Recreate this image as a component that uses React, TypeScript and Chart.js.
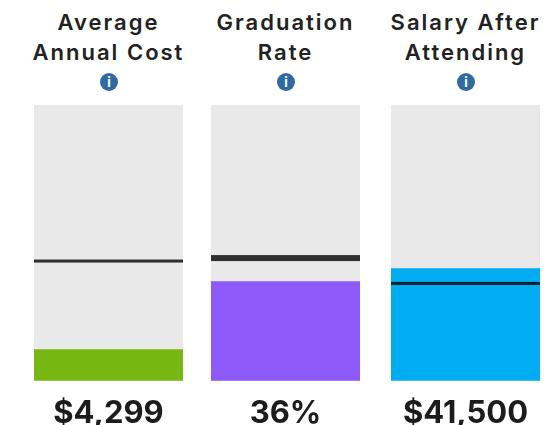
import React, { useEffect, useRef } from "react";
import { Chart, registerables } from "chart.js";

Chart.register(...registerables);

const headings = [["Average", "Annual Cost"], ["Graduation", "Rate"], ["Salary After", "Attending"]];
const valueLabels = ["$4,299", "36%", "$41,500"];
const values = [4299, 36, 41500];
const averages = [16500, 44.5, 36000];
const scaleMaxima = [38000, 100, 102000];
const barColors = ["#76b712", "#8d59f8", "#00adf2"];
const averageWidths = [3, 6, 3];
const columnLefts = [34, 211, 391];
const columnWidths = [149, 149, 149];

const averageLine = {
  id: "averageLine",
  afterDatasetsDraw(chart: any, _args: any, opts: any) {
    const { ctx, chartArea, scales } = chart;
    const y = scales.y.getPixelForValue(opts.value);
    ctx.save();
    ctx.fillStyle = "rgba(0,0,0,0.8)";
    ctx.fillRect(chartArea.left, y - opts.width / 2, chartArea.right - chartArea.left, opts.width);
    ctx.restore();
  },
};

function Column({ index }: { index: number }) {
  const ref = useRef<HTMLCanvasElement>(null);
  useEffect(() => {
    const chart = new Chart(ref.current!, {
      type: "bar",
      data: {
        labels: [valueLabels[index]],
        datasets: [
          { data: [values[index]], backgroundColor: barColors[index], order: 1 },
          { data: [scaleMaxima[index]], backgroundColor: "#e9e9e9", order: 2 },
        ],
      },
      options: {
        animation: false,
        responsive: false,
        events: [],
        layout: { padding: 0 },
        datasets: { bar: { grouped: false, barPercentage: 1, categoryPercentage: 1 } },
        plugins: {
          legend: { display: false },
          tooltip: { enabled: false },
          averageLine: { value: averages[index], width: averageWidths[index] },
        },
        scales: {
          x: {
            grid: { display: false },
            border: { display: false },
            ticks: {
              color: "#1c1c1c",
              padding: 6,
              maxRotation: 0,
              font: { family: "Inter", size: 31, weight: "700" },
            },
          },
          y: { display: false, min: 0, max: scaleMaxima[index] },
        },
      } as any,
      plugins: [averageLine],
    });
    return () => chart.destroy();
  }, [index]);
  return (
    <canvas
      ref={ref}
      width={columnWidths[index]}
      height={333}
      style={{ position: "absolute", left: columnLefts[index], top: 105 }}
    />
  );
}

function Heading({ index }: { index: number }) {
  const center = columnLefts[index] + columnWidths[index] / 2;
  return (
    <div
      style={{
        position: "absolute",
        left: center - 90,
        width: 180,
        top: 7,
        textAlign: "center",
        fontFamily: "Inter",
        fontWeight: 600,
        fontSize: 22,
        lineHeight: "30px",
        letterSpacing: 2,
        color: "#222",
        whiteSpace: "nowrap",
      }}
    >
      <div>{headings[index][0]}</div>
      <div>{headings[index][1]}</div>
      <svg width="20" height="20" style={{ display: "block", margin: "0 auto", marginTop: 5 }}>
        <circle cx="10" cy="10" r="9" fill="#2f6aa5" />
        <text x="10" y="15" textAnchor="middle" fontSize="13" fontWeight="700" fontFamily="Inter" fill="#fff" letterSpacing="0">i</text>
      </svg>
    </div>
  );
}

export default function App() {
  return (
    <div style={{ position: "absolute", left: 0, top: 0, width: 552, height: 425, overflow: "hidden", background: "#fff" }}>
      {headings.map((_, i) => (
        <React.Fragment key={i}>
          <Heading index={i} />
          <Column index={i} />
        </React.Fragment>
      ))}
    </div>
  );
}
